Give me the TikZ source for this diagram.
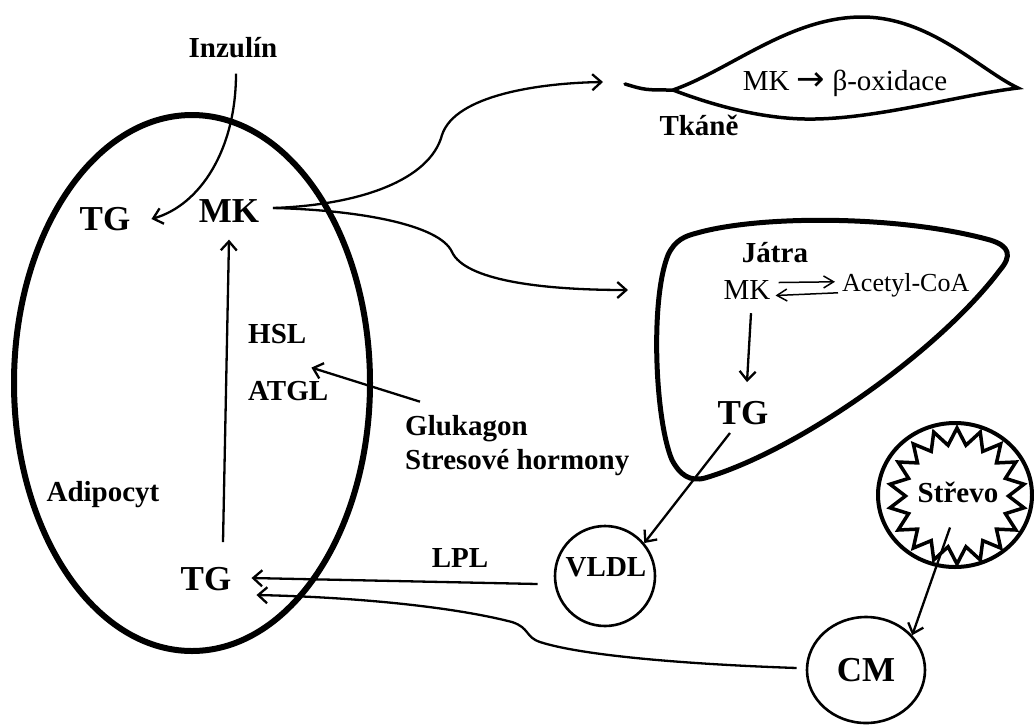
\documentclass[tikz,border=0pt]{standalone}
\usepackage{fontspec}
\setmainfont{Liberation Serif}
\newfontfamily\arrfont{DejaVu Sans}
\usetikzlibrary{arrows.meta,shapes.geometric}

\begin{document}
\begin{tikzpicture}[x=1pt, y=-1pt,
  lbl/.style={font=\bfseries\fontsize{29}{34}\selectfont, inner sep=0pt},
  big/.style={font=\bfseries\fontsize{35}{40}\selectfont, inner sep=0pt},
  txt/.style={font=\fontsize{29}{34}\selectfont, inner sep=0pt},
  arr/.style={-{Straight Barb[length=9pt,width=16pt]}, line width=2.3pt},
  thinarr/.style={-{Straight Barb[length=10pt,width=12pt]}, line width=1.5pt},
  ring/.style={draw, line width=2.6pt, inner sep=0pt}]
  \useasboundingbox (0,0) rectangle (1034,724);

  % Draw the adipocyte
  \draw[line width=6pt] (192,383) ellipse [x radius=178pt, y radius=268pt];
  \node[big] (tg1) at (105,219) {TG};
  \node[big] (mk1) at (229,211) {MK};
  \node[lbl, anchor=base] (inz) at (233,57) {Inzulín};
  \node[lbl, anchor=base west] (hsl) at (248,343) {HSL};
  \node[lbl, anchor=base west] (atgl) at (248,400) {ATGL};
  \node[lbl, anchor=base west] (gluk) at (405,435) {Glukagon};
  \node[lbl, anchor=base west] (stres) at (405,469) {Stresové hormony};
  \node[lbl, anchor=base] (adipo) at (103,501) {Adipocyt};
  \node[big] (tg2) at (206,579) {TG};

  % Draw the tissue
  \draw[line width=3.5pt, line cap=round] (625,84) .. controls (645,90) .. (673,90)
    .. controls (730,70) and (790,17) .. (862,17)
    .. controls (930,17) and (980,70) .. (1018,88)
    .. controls (960,95) and (880,118) .. (815,119)
    .. controls (770,120) and (720,108) .. (673,90);
  \node[txt] (boxi) at (845,83) {MK {\arrfont\fontsize{34}{34}\selectfont →} β-oxidace};
  \node[lbl, anchor=base] (tkane) at (699,135) {Tkáně};

  % Draw the liver
  \draw[line width=5pt] (697,233) .. controls (760,215) and (900,215) .. (990,240)
    .. controls (1010,246) and (1012,256) .. (1000,270)
    .. controls (940,350) and (800,450) .. (705,478)
    .. controls (690,482) and (680,475) .. (672,460)
    .. controls (655,420) and (650,300) .. (668,255)
    .. controls (675,240) and (685,236) .. cycle;
  \node[lbl, anchor=base] (jatra) at (775,262) {Játra};
  \node[txt, anchor=base] (mk2) at (747,299) {MK};
  \node[txt, anchor=base west, font=\fontsize{26}{30}\selectfont] (acoa) at (842,291) {Acetyl-CoA};
  \node[big] (tg3) at (743,413) {TG};

  % Draw the gut and the particles
  \node[ellipse, draw, line width=4pt, minimum width=154pt, minimum height=144pt] (strevo) at (955,495) {};
  \node[star, star points=18, star point ratio=1.32, minimum size=136pt, draw, line width=3.5pt, line join=miter] (hvezda) at (957,496) {};
  \node[lbl, anchor=base] (strT) at (958,502) {Střevo};
  \node[ring, circle, minimum size=100pt] (vldl) at (605,576) {};
  \node[lbl] (vldlT) at (606,567) {VLDL};
  \node[ring, ellipse, minimum width=118pt, minimum height=106pt, font=\bfseries\fontsize{35}{40}\selectfont] (cm) at (866,670) {CM};
  \node[lbl] (lpl) at (460,558) {LPL};

  % Free ends of the curved arrows
  \coordinate (mkOut) at (273,208);
  \coordinate (tkIn) at (603,82);
  \coordinate (jtIn) at (628,290);

  % Arrows
  \draw[arr] ([xshift=3pt,yshift=-16pt]inz.south) .. controls (236,150) and (200,205) .. ([xshift=21pt]tg1.east);
  \draw[arr] ([xshift=17pt,yshift=25pt]tg2.north) -- ([yshift=-17pt]mk1.south);
  \draw[arr] ([xshift=15pt,yshift=13pt]gluk.north west) -- ([xshift=-17pt,yshift=13pt]atgl.north east);
  \draw[arr] (mkOut) .. controls (360,205) and (430,180) .. (442,135)
    .. controls (455,95) and (540,83) .. (tkIn);
  \draw[arr] (mkOut) .. controls (360,210) and (440,225) .. (452,252)
    .. controls (465,280) and (540,290) .. (jtIn);
  \draw[thinarr] ([xshift=8pt,yshift=7pt]mk2.east) -- ([xshift=-7pt,yshift=3pt]acoa.west);
  \draw[thinarr] ([xshift=-4pt,yshift=-8pt]acoa.west) -- ([xshift=5pt,yshift=-6pt]mk2.east);
  \draw[arr] ([xshift=4pt,yshift=-14pt]mk2.south) -- ([xshift=4pt,yshift=19pt]tg3.north);
  \draw[arr] ([xshift=-13pt,yshift=-8pt]tg3.south) -- (vldl.40);
  \draw[arr] ([xshift=-16pt,yshift=-8pt]vldl.west) -- ([xshift=20pt,yshift=1pt]tg2.east);
  \draw[arr] ([xshift=-8pt,yshift=-25pt]strT.south) -- (cm.37);
  \draw[arr] ([xshift=-9pt,yshift=2pt]cm.west) .. controls (680,664) and (580,655) .. (540,642)
    .. controls (525,637) and (530,628) .. (512,622)
    .. controls (450,606) and (350,597) .. ([xshift=25pt,yshift=-16pt]tg2.east);
\end{tikzpicture}
\end{document}
